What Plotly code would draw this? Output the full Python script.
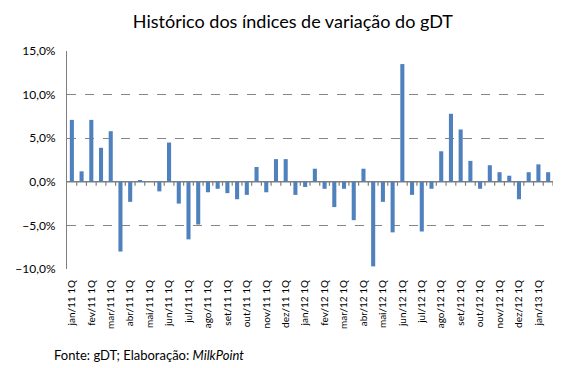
import plotly.graph_objects as go

months = ["jan", "fev", "mar", "abr", "mai", "jun", "jul", "ago", "set", "out", "nov", "dez"]
periods = [(m, "11") for m in months] + [(m, "12") for m in months] + [("jan", "13")]
categories = []
for m, y in periods:
    categories.append(f"{m}/{y} 1Q")
    categories.append(f"{m}/{y} 2Q")

values_pct = [7.1, 1.2, 7.1, 3.9, 5.8, -8.0, -2.3, 0.15, None, -1.1,
              4.5, -2.5, -6.6, -4.9, -1.2, -0.8, -1.3, -2.0, -1.5, 1.7,
              -1.2, 2.6, 2.6, -1.5, -0.6, 1.5, -0.8, -2.9, -0.8, -4.4,
              1.5, -9.7, -2.3, -5.8, 13.5, -1.5, -5.7, -0.8, 3.5, 7.8,
              6.0, 2.4, -0.8, 1.9, 1.1, 0.7, -2.0, 1.1, 2.0, 1.1]
values = [None if v is None else v / 100 for v in values_pct]

tick_labels = categories[::2]
y_range = [-0.10, 0.15]
n = len(categories)
x_range = [-0.5, n - 0.5]

FONT = "Lato"
LINE = "#7f7f7f"
plot_h_px = 218
tick_len = 4 * (y_range[1] - y_range[0]) / plot_h_px
boundaries = [i + 0.5 for i in range(n - 1)] + [n - 0.5]

fig = go.Figure()
fig.add_trace(go.Bar(x=categories, y=values, marker_color="#4F81BD",
                     marker_line_width=0, showlegend=False))
# category-boundary tick marks hanging below the zero line
fig.add_trace(go.Scatter(x=boundaries, y=[0] * len(boundaries), xaxis="x2",
                         mode="markers", marker=dict(opacity=0, size=1),
                         error_y=dict(type="data", symmetric=False,
                                      array=[0] * len(boundaries),
                                      arrayminus=[tick_len] * len(boundaries),
                                      width=0, thickness=1.2, color=LINE),
                         showlegend=False, hoverinfo="skip"))

fig.update_layout(
    width=563, height=360,
    margin=dict(l=59, r=18, t=43, b=99, autoexpand=False),
    paper_bgcolor="white", plot_bgcolor="white",
    separators=",.",
    bargap=0.58,
    font=dict(family=FONT, color="#000000", size=11),
    title=dict(text="Histórico dos índices de variação do gDT",
               x=0.506, xanchor="center", y=0.961, yanchor="middle",
               yref="container", font=dict(family=FONT, size=18, color="#000")),
    xaxis=dict(type="category", categoryorder="array", categoryarray=categories,
               range=x_range,
               tickmode="array", tickvals=tick_labels, ticktext=tick_labels,
               tickangle=-90, ticks="", showline=False, showgrid=False,
               zeroline=False, ticklabelstandoff=8, automargin=False,
               tickfont=dict(family=FONT, size=10)),
    xaxis2=dict(type="linear", range=x_range, overlaying="x", visible=False),
    yaxis=dict(range=y_range, domain=[0, 1], tickformat=".1%", dtick=0.05,
               showgrid=True, gridcolor="#868686", griddash="dash", gridwidth=1,
               zeroline=True, zerolinecolor=LINE, zerolinewidth=1.2,
               showline=True, linecolor=LINE, linewidth=1.2,
               ticks="", ticklabelstandoff=8, automargin=False,
               tickfont=dict(family=FONT, size=12)),
)

# solid horizontal category axis line at zero
fig.add_hline(y=0, line_color=LINE, line_width=1.2, layer="below")

fig.add_annotation(text="Fonte: gDT; Elaboração: <i>MilkPoint</i>",
                   xref="paper", yref="paper", x=-0.031, y=-0.394,
                   xanchor="left", yanchor="middle", showarrow=False,
                   font=dict(family=FONT, size=13, color="#000"))

fig.write_html("out.html")
